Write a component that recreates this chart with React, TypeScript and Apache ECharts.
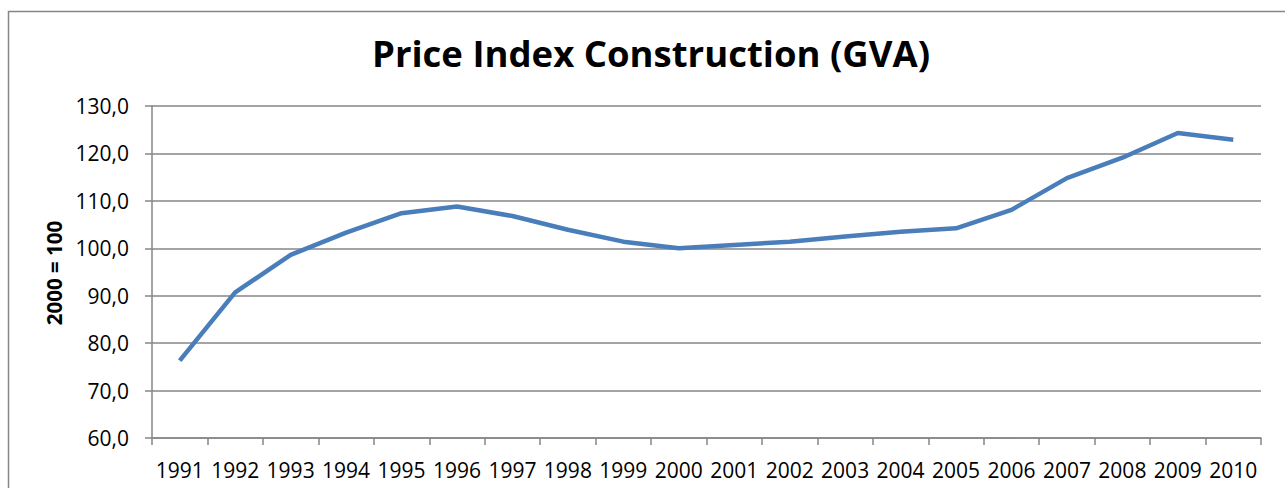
import React, { useEffect, useRef } from "react";
import * as echarts from "echarts";

const years = ["1991","1992","1993","1994","1995","1996","1997","1998","1999","2000","2001","2002","2003","2004","2005","2006","2007","2008","2009","2010"];
const priceIndex = [76.3, 90.7, 98.6, 103.3, 107.4, 108.8, 106.8, 103.9, 101.4, 100.0, 100.7, 101.4, 102.5, 103.5, 104.2, 108.1, 114.8, 119.1, 124.3, 122.9];
const titleText = "Price Index Construction (GVA)";
const yAxisName = "2000 = 100";

export default function App() {
  const ref = useRef<HTMLDivElement>(null);
  useEffect(() => {
    if (!ref.current) return;
    const chart = echarts.init(ref.current, null, { renderer: "svg" });
    const grey = "#868686";
    chart.setOption({
      animation: false,
      backgroundColor: "#ffffff",
      textStyle: { fontFamily: "Open Sans" },
      title: {
        text: titleText,
        left: 646,
        textAlign: "center",
        top: 29,
        textStyle: { fontFamily: "Open Sans", fontWeight: "bold", fontSize: 36.5, color: "#000" },
      },
      graphic: [
        {
          type: "polyline",
          shape: { points: [[8.5, 500], [8.5, 11.5], [1290, 11.5]] },
          style: { stroke: grey, lineWidth: 1.5, fill: "none" },
          silent: true,
        },
        {
          type: "text",
          x: 54,
          y: 273,
          rotation: Math.PI / 2,
          style: {
            text: yAxisName,
            fontFamily: "Open Sans",
            fontWeight: "bold",
            fontSize: 20.5,
            fill: "#000",
            align: "center",
            verticalAlign: "middle",
          },
        },
      ],
      grid: { left: 152, right: 24, top: 106, bottom: 50, containLabel: false },
      xAxis: {
        type: "category",
        data: years,
        boundaryGap: true,
        axisLine: { show: true, lineStyle: { color: grey, width: 1.5 } },
        axisTick: { show: true, length: 7, inside: false, alignWithLabel: false, lineStyle: { color: grey, width: 1.5 } },
        axisLabel: { color: "#000", fontSize: 21, fontFamily: "Open Sans", margin: 21, interval: 0 },
        splitLine: { show: false },
      },
      yAxis: {
        type: "value",
        min: 60,
        max: 130,
        interval: 10,
        axisLine: { show: true, lineStyle: { color: grey, width: 1.5 } },
        axisTick: { show: true, length: 7, inside: false, lineStyle: { color: grey, width: 1.5 } },
        axisLabel: {
          color: "#000",
          fontSize: 21,
          fontFamily: "Open Sans",
          margin: 23,
          formatter: (v: number) => v.toFixed(1).replace(".", ","),
        },
        splitLine: { show: true, lineStyle: { color: grey, width: 1.5 } },
      },
      series: [
        {
          type: "line",
          data: priceIndex,
          symbol: "none",
          lineStyle: { color: "#4a7ebb", width: 4.5 },
          itemStyle: { color: "#4a7ebb" },
        },
      ],
    });
    return () => chart.dispose();
  }, []);
  return <div ref={ref} style={{ position: "fixed", left: 0, top: 0, width: 1285, height: 488 }} />;
}
